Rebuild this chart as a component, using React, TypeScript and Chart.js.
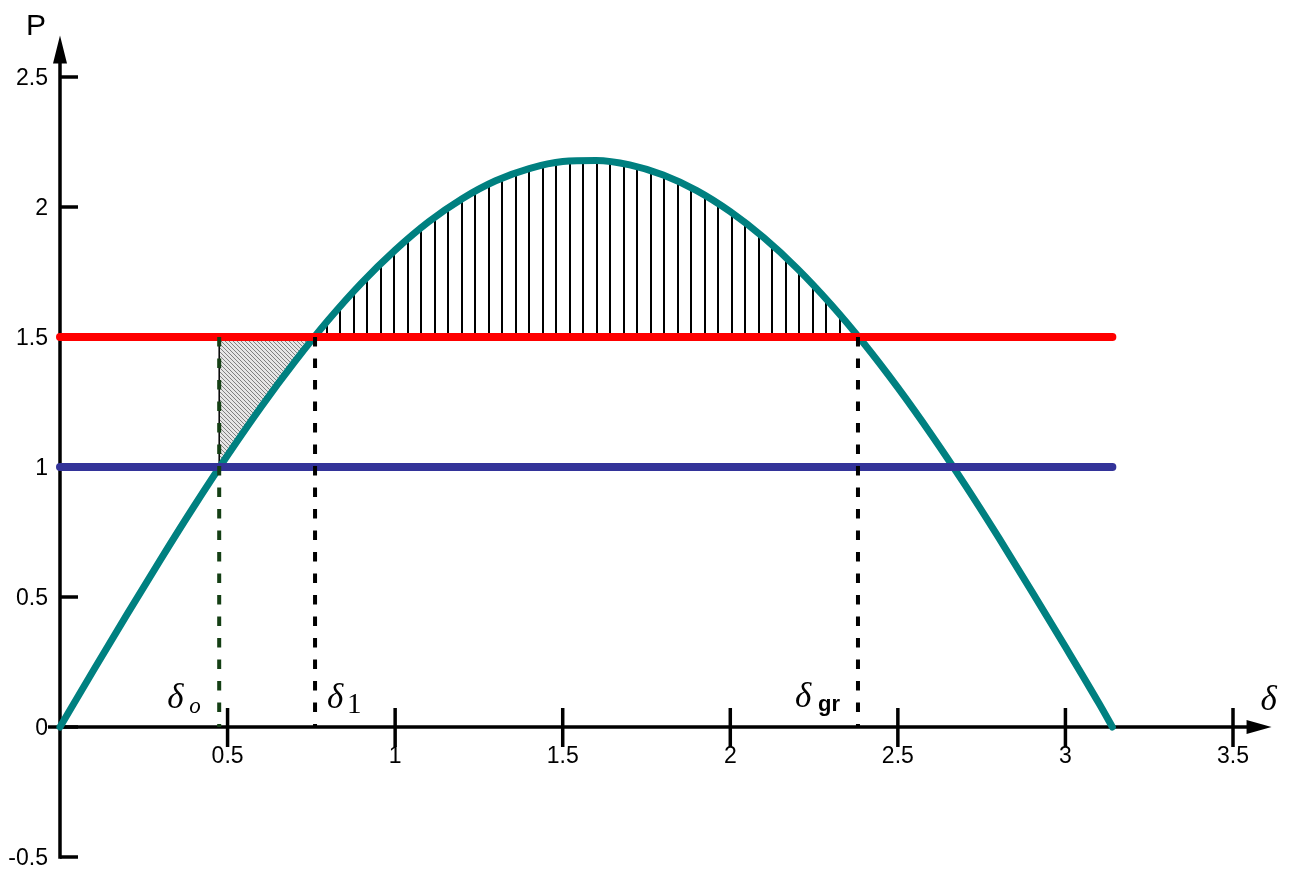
import React, { useEffect, useRef } from "react";
import { Chart, registerables } from "chart.js";

Chart.register(...registerables);

// ---- data ----
const deltaValues = [0, 0.1, 0.2, 0.3, 0.4, 0.5, 0.6, 0.7, 0.8, 0.9, 1.0, 1.1, 1.2, 1.3, 1.4, 1.5, 1.6, 1.7, 1.8, 1.9, 2.0, 2.1, 2.2, 2.3, 2.4, 2.5, 2.6, 2.7, 2.8, 2.9, 3.0, 3.1, 3.14];
const powerValues = [0, 0.218, 0.433, 0.644, 0.849, 1.045, 1.231, 1.404, 1.564, 1.708, 1.834, 1.943, 2.032, 2.101, 2.148, 2.175, 2.179, 2.162, 2.123, 2.063, 1.982, 1.882, 1.763, 1.626, 1.473, 1.305, 1.124, 0.932, 0.73, 0.521, 0.308, 0.091, 0];

const mechanicalPower = 1.5; // red line
const initialPower = 1.0; // blue line
const lineStart = 0;
const lineEnd = 3.14;

const deltaO = 0.475;
const delta1 = 0.761;
const deltaGr = 2.381;

const triangleDelta = [0.475, 0.475, 0.5, 0.6, 0.7, 0.761];
const trianglePower = [1.5, 1.0, 1.045, 1.231, 1.404, 1.5];

const xTicks = [0.5, 1, 1.5, 2, 2.5, 3, 3.5];
const xTickLabels = ["0.5", "1", "1.5", "2", "2.5", "3", "3.5"];
const yTicks = [-0.5, 0, 0.5, 1, 1.5, 2, 2.5];
const yTickLabels = ["-0.5", "0", "0.5", "1", "1.5", "2", "2.5"];

const xArrowTip = 3.615;
const yArrowTip = 2.66;

const TEAL = "#008080";
const RED = "#ff0000";
const BLUE = "#333399";

function makeVerticalPattern(): CanvasPattern | string {
  const c = document.createElement("canvas");
  c.width = 27;
  c.height = 10;
  const g = c.getContext("2d");
  if (!g) return "rgba(0,0,0,0.2)";
  g.fillStyle = "#000";
  g.fillRect(2, 0, 2, 10);
  g.fillRect(15, 0, 2, 10);
  return g.createPattern(c, "repeat") as CanvasPattern;
}

function makeGrayPattern(): CanvasPattern | string {
  const c = document.createElement("canvas");
  c.width = 4;
  c.height = 4;
  const g = c.getContext("2d");
  if (!g) return "#cccccc";
  g.fillStyle = "#e6e6e6";
  g.fillRect(0, 0, 4, 4);
  g.fillStyle = "#808080";
  for (let i = 0; i < 4; i++) g.fillRect(i, i, 1, 1);
  return g.createPattern(c, "repeat") as CanvasPattern;
}

const axesPlugin = {
  id: "customAxes",
  beforeDatasetsDraw(chart: any) {
    const { ctx } = chart;
    const x = chart.scales.x;
    const y = chart.scales.y;
    const x0 = x.getPixelForValue(0);
    const y0 = y.getPixelForValue(0);
    const xTip = x.getPixelForValue(xArrowTip);
    const yTip = y.getPixelForValue(yArrowTip);
    const yBottom = y.getPixelForValue(-0.5);
    ctx.save();
    ctx.strokeStyle = "#000";
    ctx.fillStyle = "#000";
    ctx.lineWidth = 3.5;
    ctx.lineCap = "butt";
    // x axis
    ctx.beginPath();
    ctx.moveTo(x0 - 12, y0);
    ctx.lineTo(xTip - 20, y0);
    ctx.stroke();
    ctx.beginPath();
    ctx.moveTo(xTip, y0);
    ctx.lineTo(xTip - 25, y0 - 7);
    ctx.lineTo(xTip - 25, y0 + 7);
    ctx.closePath();
    ctx.fill();
    // y axis
    ctx.beginPath();
    ctx.moveTo(x0, yBottom + 1.75);
    ctx.lineTo(x0, yTip + 22);
    ctx.stroke();
    ctx.beginPath();
    ctx.moveTo(x0, yTip);
    ctx.lineTo(x0 - 7, yTip + 28);
    ctx.lineTo(x0 + 7, yTip + 28);
    ctx.closePath();
    ctx.fill();
    // y ticks
    yTicks.forEach((v) => {
      const py = y.getPixelForValue(v);
      ctx.beginPath();
      ctx.moveTo(x0, py);
      ctx.lineTo(x0 + 18, py);
      ctx.stroke();
    });
    // x ticks
    xTicks.forEach((v) => {
      const px = x.getPixelForValue(v);
      ctx.beginPath();
      ctx.moveTo(px, y0 - 19);
      ctx.lineTo(px, y0 + 20);
      ctx.stroke();
    });
    ctx.restore();
  },
  afterDatasetsDraw(chart: any) {
    const { ctx } = chart;
    const x = chart.scales.x;
    const y = chart.scales.y;
    const x0 = x.getPixelForValue(0);
    const y0 = y.getPixelForValue(0);
    const xTip = x.getPixelForValue(xArrowTip);
    const yTip = y.getPixelForValue(yArrowTip);
    ctx.save();
    ctx.fillStyle = "#000";
    ctx.font = '23px "Liberation Sans", Arial, sans-serif';
    ctx.textBaseline = "alphabetic";
    ctx.textAlign = "right";
    yTicks.forEach((v, i) => {
      ctx.fillText(yTickLabels[i], x0 - 12, y.getPixelForValue(v) + 8);
    });
    ctx.textAlign = "center";
    xTicks.forEach((v, i) => {
      ctx.fillText(xTickLabels[i], x.getPixelForValue(v), y0 + 36);
    });
    // P label
    ctx.font = '30px "Liberation Sans", Arial, sans-serif';
    ctx.fillText("P", x0 - 24, yTip);

    // math labels
    ctx.textAlign = "left";
    const dFont = 'italic 35px "Liberation Serif", "DejaVu Serif", serif';
    // delta_o
    const pO = x.getPixelForValue(deltaO);
    ctx.font = dFont;
    ctx.fillText("δ", pO - 52, y0 - 19);
    ctx.font = 'italic 23px "Liberation Serif", serif';
    ctx.fillText("o", pO - 30, y0 - 14);
    // delta_1
    const p1 = x.getPixelForValue(delta1);
    ctx.font = dFont;
    ctx.fillText("δ", p1 + 12, y0 - 19);
    ctx.font = '29px "Liberation Serif", serif';
    ctx.fillText("1", p1 + 32, y0 - 14);
    // delta_gr
    const pG = x.getPixelForValue(deltaGr);
    ctx.font = dFont;
    ctx.fillText("δ", pG - 63, y0 - 20);
    ctx.font = 'bold 22px "Liberation Sans", Arial, sans-serif';
    ctx.fillText("gr", pG - 40, y0 - 16);
    // axis delta
    ctx.font = dFont;
    ctx.fillText("δ", xTip - 11, y0 - 17);
    ctx.restore();
  },
};

export default function App() {
  const canvasRef = useRef<HTMLCanvasElement | null>(null);

  useEffect(() => {
    document.body.style.margin = "0";
    const canvas = canvasRef.current;
    if (!canvas) return;
    const verticalPattern = makeVerticalPattern();
    const grayPattern = makeGrayPattern();

    const curve = deltaValues.map((d, i) => ({ x: d, y: powerValues[i] }));
    const triangle = triangleDelta.map((d, i) => ({ x: d, y: trianglePower[i] }));
    const dashed = (d: number) => [
      { x: d, y: mechanicalPower },
      { x: d, y: 0 },
    ];
    const dashStyle = {
      borderWidth: 4,
      borderDash: [9.5, 12],
      pointRadius: 0,
      fill: false,
      order: 1,
      clip: false,
    };

    const chart = new Chart(canvas, {
      type: "line",
      data: {
        datasets: [
          { data: dashed(deltaO), borderColor: "#143f14", ...dashStyle },
          { data: dashed(delta1), borderColor: "#000", ...dashStyle },
          { data: dashed(deltaGr), borderColor: "#000", ...dashStyle },
          {
            data: [
              { x: lineStart, y: mechanicalPower },
              { x: lineEnd, y: mechanicalPower },
            ],
            borderColor: RED,
            borderWidth: 8,
            borderCapStyle: "round",
            pointRadius: 0,
            fill: false,
            order: 3,
            clip: false,
          },
          {
            data: [
              { x: lineStart, y: initialPower },
              { x: lineEnd, y: initialPower },
            ],
            borderColor: BLUE,
            borderWidth: 8,
            borderCapStyle: "round",
            pointRadius: 0,
            fill: false,
            order: 3,
            clip: false,
          },
          {
            data: curve,
            borderColor: TEAL,
            borderWidth: 7,
            borderCapStyle: "round",
            borderJoinStyle: "round",
            cubicInterpolationMode: "monotone",
            pointRadius: 0,
            fill: {
              target: { value: mechanicalPower },
              above: verticalPattern,
              below: "rgba(0,0,0,0)",
            },
            order: 5,
            clip: false,
          },
          {
            data: triangle,
            borderColor: "#000",
            borderWidth: 1.5,
            tension: 0,
            pointRadius: 0,
            fill: {
              target: { value: mechanicalPower },
              above: grayPattern,
              below: grayPattern,
            },
            order: 6,
            clip: false,
          },
        ],
      },
      options: {
        responsive: false,
        animation: false,
        devicePixelRatio: 1,
        layout: { padding: { left: 60, right: 57, top: 77, bottom: 13 } },
        plugins: {
          legend: { display: false },
          tooltip: { enabled: false },
          title: { display: false },
        },
        scales: {
          x: { type: "linear", min: 0, max: 3.5, display: false },
          y: { type: "linear", min: -0.5, max: 2.5, display: false },
        },
      },
      plugins: [axesPlugin],
    } as any);

    return () => {
      chart.destroy();
    };
  }, []);

  return (
    <div style={{ position: "absolute", left: 0, top: 0, width: 1290, height: 870, background: "#fff" }}>
      <canvas ref={canvasRef} width={1290} height={870} style={{ width: 1290, height: 870, display: "block" }} />
    </div>
  );
}
